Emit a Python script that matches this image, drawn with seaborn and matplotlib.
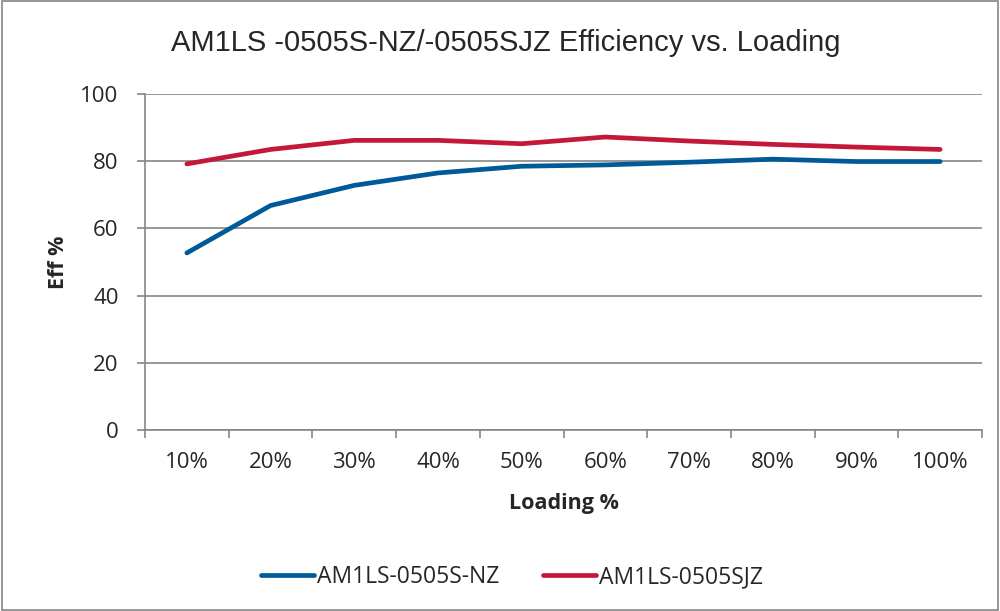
#!/usr/bin/env python3
"""Efficiency vs. loading curves for AM1LS-0505S-NZ / AM1LS-0505SJZ."""

import matplotlib
matplotlib.use('Agg')
import matplotlib.pyplot as plt
import numpy as np
import pandas as pd
import seaborn as sns

# ── Data ────────────────────────────────────────────────────────────────────
LOADING = ['10%', '20%', '30%', '40%', '50%', '60%', '70%', '80%', '90%', '100%']
EFF_NZ = [52.7, 66.8, 72.8, 76.5, 78.5, 78.9, 79.7, 80.6, 79.9, 79.9]
EFF_SJZ = [79.2, 83.5, 86.2, 86.2, 85.2, 87.2, 86.0, 85.0, 84.2, 83.5]
SERIES = ['AM1LS-0505S-NZ', 'AM1LS-0505SJZ']
COLORS = ['#005A9A', '#C4183A']
Y_TICKS = [0, 20, 40, 60, 80, 100]

df = pd.DataFrame({
    'idx': list(range(len(LOADING))) * 2,
    'eff': EFF_NZ + EFF_SJZ,
    'series': [SERIES[0]] * len(LOADING) + [SERIES[1]] * len(LOADING),
})

sns.set_style('white')
plt.rcParams['font.family'] = ['Liberation Sans', 'DejaVu Sans']
SANS = ['Open Sans', 'DejaVu Sans']

fig = plt.figure(figsize=(10, 6.11), dpi=100)
ax = fig.add_axes([0.145, 1 - 430 / 611, 0.837, 336 / 611])

sns.lineplot(data=df, x='idx', y='eff', hue='series', palette=COLORS,
             linewidth=3.4, ax=ax, legend=False, solid_capstyle='round')

grey = '#868686'
ax.set_ylim(0, 100)
ax.set_xlim(-0.5, len(LOADING) - 0.5)
ax.set_yticks(Y_TICKS)
ax.set_yticklabels([str(v) for v in Y_TICKS], fontsize=16, family=SANS)
ax.yaxis.grid(True, color=grey, linewidth=1.2)
ax.set_axisbelow(True)
ax.tick_params(axis='y', length=6, color=grey, width=1.2, pad=13,
               direction='out', left=True)

ax.set_xticks(range(len(LOADING)))
ax.set_xticklabels(LOADING, fontsize=16, family=SANS)
ax.set_xticks(np.arange(-0.5, len(LOADING), 1), minor=True)
ax.tick_params(axis='x', which='major', length=0, pad=16)
ax.tick_params(axis='x', which='minor', length=6, color=grey, width=1.2,
               direction='out', bottom=True)

for side in ['top', 'right']:
    ax.spines[side].set_visible(False)
for side in ['left', 'bottom']:
    ax.spines[side].set_color(grey)
    ax.spines[side].set_linewidth(1.2)

ax.set_xlabel('Loading %', fontsize=15.5, fontweight='bold', family=SANS, labelpad=14)
ax.set_ylabel('Eff %', fontsize=15.5, fontweight='bold', family=SANS, labelpad=8)

fig.text(0.506, 1 - 43 / 611, 'AM1LS -0505S-NZ/-0505SJZ Efficiency vs. Loading',
         ha='center', va='center', fontsize=21)

handles = [plt.Line2D([], [], color=c, linewidth=3.4, solid_capstyle='round') for c in COLORS]
fig.legend(handles, SERIES, loc='center', bbox_to_anchor=(0.512, 1 - 577 / 611),
           ncol=2, frameon=False, handlelength=2.3, handletextpad=0.15,
           columnspacing=1.9, prop={'family': SANS, 'size': 16.5})

# outer chart border
fig.patches.append(plt.Rectangle((0.002, 0.002), 0.996, 0.996, transform=fig.transFigure,
                                 fill=False, edgecolor=grey, linewidth=1.2))

fig.savefig('out.png', dpi=100)
